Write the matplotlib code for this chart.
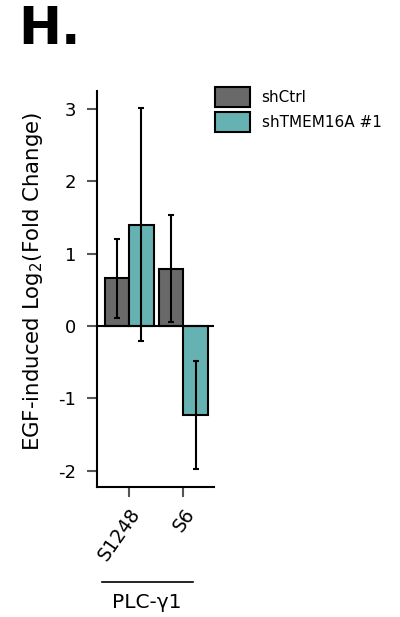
import matplotlib.pyplot as plt
import numpy as np

# dados do painel H
sites = ['S1248', 'S6']
groups = ['shCtrl', 'shTMEM16A #1']
means_ctrl = [0.66, 0.79]
err_ctrl = [0.55, 0.74]
means_kd = [1.40, -1.23]
err_kd = [1.61, 0.75]
colors = ['#696969', '#66b2b2']

fig = plt.figure(figsize=(4.0, 6.17), dpi=100)
ax = fig.add_axes([0.242, 0.2112, 0.293, 0.6413])

x = np.arange(len(sites))
w = 0.45
ax.bar(x - w / 2, means_ctrl, w, color=colors[0], edgecolor='black',
       linewidth=1.5, label=groups[0], zorder=2)
ax.bar(x + w / 2, means_kd, w, color=colors[1], edgecolor='black',
       linewidth=1.5, label=groups[1], zorder=2)
ax.errorbar(x - w / 2, means_ctrl, yerr=err_ctrl, fmt='none', ecolor='black',
            elinewidth=1.5, capsize=2, capthick=1.5, zorder=3)
ax.errorbar(x + w / 2, means_kd, yerr=err_kd, fmt='none', ecolor='black',
            elinewidth=1.5, capsize=2, capthick=1.5, zorder=3)

ax.axhline(0, color='black', linewidth=1.5, zorder=4)
ax.set_xlim(-0.595, 1.565)
ax.set_ylim(-2.22, 3.25)
ax.set_yticks([-2, -1, 0, 1, 2, 3])
ax.set_yticklabels(['-2', '-1', '0', '1', '2', '3'], fontsize=13)
ax.set_xticks(x)
ax.set_xticklabels(sites, fontsize=13.5, rotation=55, ha='right',
                   rotation_mode='anchor')
ax.tick_params(axis='both', color='#555555', width=1.5, length=7)
ax.tick_params(axis='y', pad=8)
ax.tick_params(axis='x', pad=6)

for side in ['top', 'right']:
    ax.spines[side].set_visible(False)
for side in ['left', 'bottom']:
    ax.spines[side].set_linewidth(1.5)

ax.set_ylabel('EGF-induced Log$_2$(Fold Change)', fontsize=15.3)
ax.yaxis.set_label_coords(-0.445, 0.52)

ax.legend(loc='upper left', bbox_to_anchor=(1.008, 1.01), frameon=False,
          fontsize=11, handlelength=2.3, handleheight=1.65, handletextpad=0.75,
          labelspacing=0.3, borderaxespad=0, borderpad=0)

# barra do grupo PLC-γ1 por baixo dos rótulos
fig.add_artist(plt.Line2D([102 / 400, 193 / 400], [1 - 581.5 / 617] * 2,
                          color='black', linewidth=1.2))
fig.text(147 / 400, 1 - 603 / 617, 'PLC-γ1', fontsize=14.5, ha='center',
         va='center')

fig.text(18 / 400, 1 - 30 / 617, 'H.', fontsize=37, fontweight='bold',
         ha='left', va='center')

fig.savefig('out.png', dpi=100)
